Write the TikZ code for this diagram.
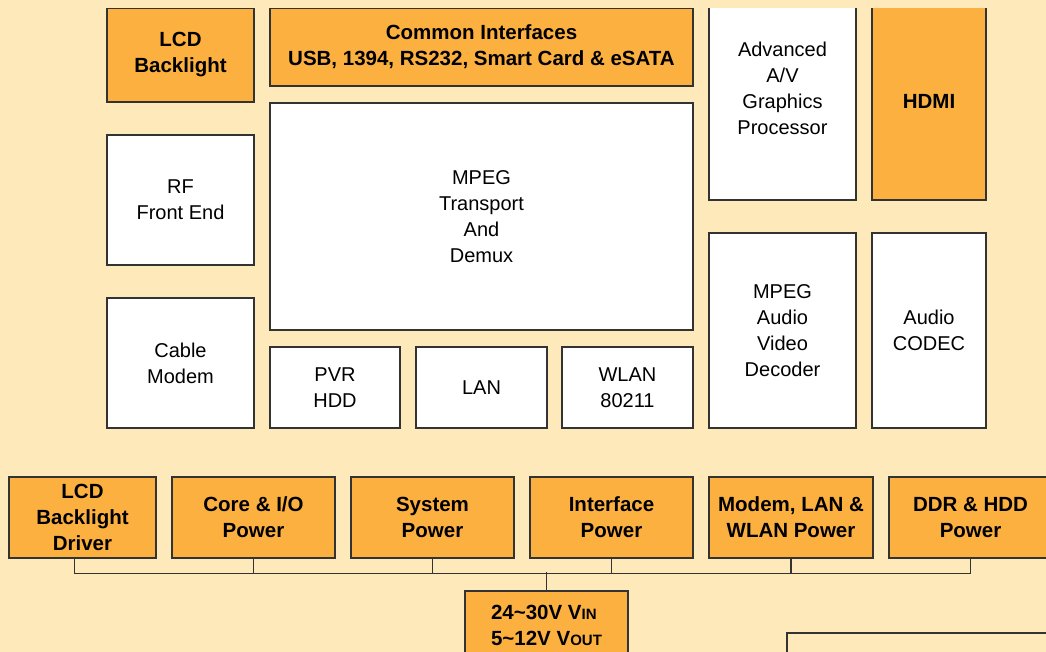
\documentclass[tikz,border=0pt]{standalone}
\usepackage{fontspec}
\setmainfont{Liberation Sans}
\usetikzlibrary{positioning}
\usepackage{xcolor}
\definecolor{PageBg}{HTML}{FEE9BA}
\definecolor{PowerOrange}{HTML}{FBB040}
\definecolor{EdgeGray}{HTML}{333333}

\begin{document}
\begin{tikzpicture}[
            x=1pt, y=-1pt,
            block/.style={rectangle, draw=EdgeGray, line width=1.3pt, fill=white, inner sep=0pt, align=center, font=\fontsize{20}{26}\selectfont},
            powerblock/.style={block, fill=PowerOrange, font=\fontsize{20.5}{26}\selectfont\bfseries},
            openblock/.style={block, fill=PageBg},
            bus/.style={draw=EdgeGray, line width=1.6pt}
        ]
            \useasboundingbox (0,0) rectangle (1046,652);
            \fill[PageBg] (0,0) rectangle (1046,652);
            \begin{scope}
            \clip (0,9) rectangle (1046,652);
            % top row, cut off by the page edge
            \node[powerblock, minimum width=147pt, minimum height=94pt] (lcdbl) at (180.5,55) {LCD\\Backlight};
            \node[powerblock, minimum width=423pt, minimum height=78pt] (common) at (481.5,47) {Common Interfaces\\USB, 1394, RS232, Smart Card \& eSATA};
            \node[block, minimum width=147pt, minimum height=224pt] (avgp) at (782.5,88) {Advanced\\A/V\\Graphics\\Processor};
            \node[powerblock, minimum width=114pt, minimum height=198pt] (hdmi) at (929,101) {HDMI};
            % front ends and main processor
            \node[block, minimum width=147pt, minimum height=130pt] (rf) at (180.5,200) {RF\\Front End};
            \node[block, minimum width=147pt, minimum height=130pt] (cable) at (180.5,363) {Cable\\Modem};
            \node[block, minimum width=423pt, minimum height=227pt] (mpegts) at (481.5,216.5) {MPEG\\Transport\\And\\Demux};
            \node[block, minimum width=130pt, minimum height=81pt] (pvr) at (335,387.5) {PVR\\HDD};
            \node[block, minimum width=131pt, minimum height=81pt] (lan) at (481.5,387.5) {LAN};
            \node[block, minimum width=131pt, minimum height=81pt] (wlan) at (627.5,387.5) {WLAN\\80211};
            \node[block, minimum width=147pt, minimum height=195pt] (avdec) at (782.5,330.5) {MPEG\\Audio\\Video\\Decoder};
            \node[block, minimum width=114pt, minimum height=195pt] (codec) at (929,330.5) {Audio\\CODEC};
            % power supplies
            \node[powerblock, minimum width=147pt, minimum height=81pt] (lcddrv) at (82.5,517.5) {LCD\\Backlight\\Driver};
            \node[powerblock, minimum width=163pt, minimum height=81pt] (corepwr) at (253.5,517.5) {Core \& I/O\\Power};
            \node[powerblock, minimum width=163pt, minimum height=81pt] (syspwr) at (432.5,517.5) {System\\Power};
            \node[powerblock, minimum width=163pt, minimum height=81pt] (ifpwr) at (611.5,517.5) {Interface\\Power};
            \node[powerblock, minimum width=164pt, minimum height=81pt] (netpwr) at (791,517.5) {Modem, LAN \&\\WLAN Power};
            \node[powerblock, minimum width=163pt, minimum height=81pt] (ddrpwr) at (970.5,517.5) {DDR \& HDD\\Power};
            \node[powerblock, minimum width=163pt, minimum height=68pt, align=left] (vin) at (546.5,625) {24\textasciitilde30V V{\fontsize{15}{15}\selectfont IN}\\5\textasciitilde12V V{\fontsize{15}{15}\selectfont OUT}};
            \node[openblock, minimum width=280pt, minimum height=80pt] (extra) at (927,673) {};
            \end{scope}

            \draw[bus] ([xshift=-8pt]lcddrv.south) -- ++(0,15) -| (ddrpwr.south);
            \draw[bus] (corepwr.south) -- ++(0,15);
            \draw[bus] (syspwr.south) -- ++(0,15);
            \draw[bus] (ifpwr.south) -- ++(0,15);
            \draw[bus] (netpwr.south) -- ++(0,15);
            \draw[bus] (vin.north) -- ++(0,-18);
        \end{tikzpicture}
\end{document}
